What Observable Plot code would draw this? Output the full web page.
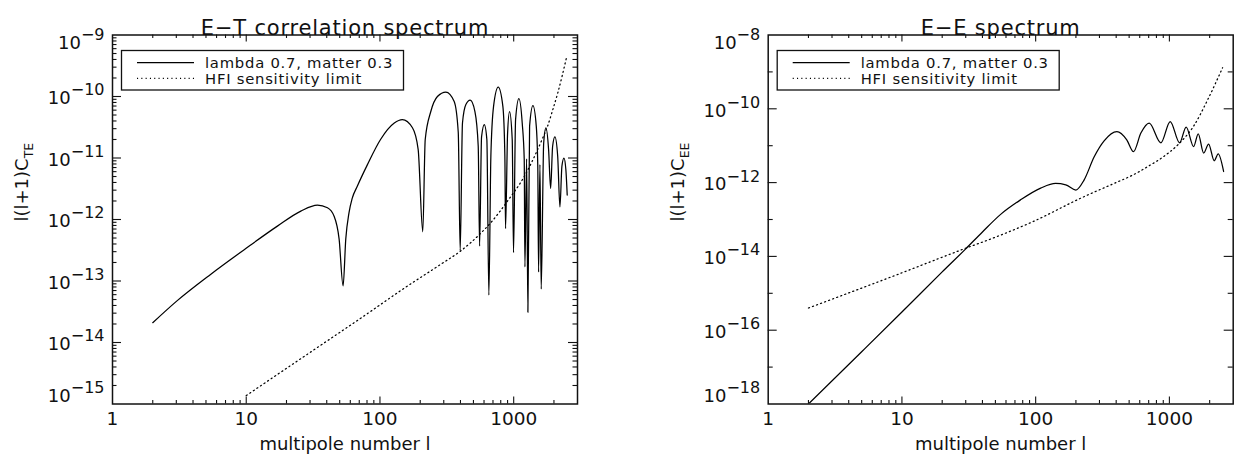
<!DOCTYPE html>
<html>
<head>
<meta charset="utf-8">
<script src="https://cdn.jsdelivr.net/npm/d3@7"></script>
<script src="https://cdn.jsdelivr.net/npm/@observablehq/plot@0.6"></script>
<style>
  html, body { margin: 0; padding: 0; background: #fff; }
  #wrap { position: relative; width: 1236px; height: 460px; overflow: hidden; }
  .panel { position: absolute; top: 0; }
</style>
</head>
<body>
<div id="wrap"></div>
<script>
// ---------- data ----------
// E-T panel: |l(l+1) C_TE| for lambda 0.7, matter 0.3
const ellTE = [2, 3.05, 5.41, 9.6, 17.1, 25.6, 34.1, 40.5, 45.4, 49.5, 53, 55.5, 58.7, 62, 67.8, 80.6, 101, 128, 147, 175, 193, 209, 218, 240, 269, 311, 359, 385, 398, 414, 439, 473, 513, 543, 556, 575, 603, 630, 652, 675, 707, 766, 830, 859, 869, 900, 931, 975, 997, 1033, 1094, 1158, 1199, 1213, 1249, 1277, 1315, 1393, 1475, 1514, 1535, 1571, 1606, 1676, 1742, 1824, 1889, 1955, 2033, 2133, 2217, 2293, 2376, 2455, 2513];
const valTE = [2.1e-14, 4.8e-14, 1.28e-13, 3.2e-13, 7.8e-13, 1.37e-12, 1.71e-12, 1.55e-12, 1.13e-12, 4.8e-13, 8.3e-14, 4.8e-13, 1.29e-12, 2.2e-12, 3.5e-12, 7.8e-12, 2e-11, 3.7e-11, 4.2e-11, 3.1e-11, 1.38e-11, 6.3e-13, 2e-11, 5.7e-11, 1e-10, 1.18e-10, 8.3e-11, 2.6e-11, 3.1e-13, 3.7e-11, 7.4e-11, 8.7e-11, 5.7e-11, 1.55e-11, 3.7e-13, 2.2e-11, 3.5e-11, 2e-11, 5.9e-14, 1.07e-11, 6.9e-11, 1.42e-10, 6.9e-11, 1.07e-11, 7.1e-13, 2.5e-11, 5.7e-11, 2e-11, 2.9e-13, 4.2e-11, 9.2e-11, 3.7e-11, 9.4e-12, 1.7e-13, 9.7e-12, 3.1e-14, 3.3e-11, 7.1e-11, 3.3e-11, 7.3e-12, 1.4e-13, 7.8e-12, 7.4e-14, 1.75e-11, 3.1e-11, 1.37e-11, 3.2e-12, 1.55e-11, 2.2e-11, 1.07e-11, 1.6e-12, 7.3e-12, 1e-11, 6.5e-12, 2.5e-12];
// E-T panel: HFI sensitivity limit
const ellTEnoise = [10, 20, 40, 76, 150, 285, 403, 568, 675, 900, 1199, 1510, 1645, 1793, 1955, 2133, 2500];
const valTEnoise = [1.37e-15, 3.8e-15, 1.05e-14, 2.7e-14, 7.5e-14, 1.87e-13, 3.1e-13, 6e-13, 8.9e-13, 2e-12, 5e-12, 1.37e-11, 2.1e-11, 3.3e-11, 6e-11, 1.13e-10, 4.6e-10];

// E-E panel: l(l+1) C_EE
const ellEE = [2, 5, 10, 20, 30, 40, 55, 77, 109, 141, 168, 200, 230, 274, 325, 405, 480, 539, 612, 706, 864, 1014, 1192, 1335, 1518, 1643, 1803, 1965, 2163, 2318, 2543];
const valEE = [1.0e-18, 2.6e-17, 3.1e-16, 3.8e-15, 1.6e-14, 4.6e-14, 1.4e-13, 3.4e-13, 7.1e-13, 9.5e-13, 8.7e-13, 6.3e-13, 1.17e-12, 5e-12, 1.35e-11, 2.4e-11, 1.44e-11, 6.9e-12, 2.2e-11, 4.1e-11, 1.2e-11, 4.5e-11, 1.2e-11, 3.2e-11, 9.5e-12, 2.1e-11, 6.3e-12, 1.1e-11, 3.9e-12, 6e-12, 2e-12];
// E-E panel: HFI sensitivity limit
const ellEEnoise = [2, 9, 27.5, 55, 97, 218, 386, 513, 612, 687, 900, 1152, 1534, 1930, 2500];
const valEEnoise = [4e-16, 3.1e-15, 1.48e-14, 3.8e-14, 9e-14, 3.8e-13, 9.5e-13, 1.5e-12, 2.1e-12, 2.7e-12, 5e-12, 1.04e-11, 3.6e-11, 1.74e-10, 1.3e-9];

// axes / text
const xTickLabels = [1, 10, 100, 1000];
const xDomain = [1, 3000];
const yLabelsTE = [1e-9, 1e-10, 1e-11, 1e-12, 1e-13, 1e-14, 1e-15];
const yLabelsEE = [1e-8, 1e-10, 1e-12, 1e-14, 1e-16, 1e-18];
const titles = ["E\u2212T correlation spectrum", "E\u2212E spectrum"];
const yTitles = [["l(l+1)C", "TE"], ["l(l+1)C", "EE"]];
const xTitle = "multipole number l";
const legendLabels = ["lambda 0.7, matter 0.3", "HFI sensitivity limit"];

// ---------- drawing ----------
const FONT = "'DejaVu Sans', 'Liberation Sans', sans-serif";
const INK = "#111";
const W = 618, H = 460, MT = 34.5, MB = 56.5;
const FH = H - MT - MB;
const DOTS = "1.1,3.2";

function minorsBetween(lo, hi, mults) {
  const out = [];
  for (let e = Math.floor(Math.log10(lo)); e <= Math.ceil(Math.log10(hi)); e++) {
    for (const m of mults) {
      const v = m * Math.pow(10, e);
      if (v > lo * 1.0001 && v < hi * 0.9999) out.push(v);
    }
  }
  return out;
}
function expLabel(v) { return "10^" + "\u2212" + Math.round(-Math.log10(v)); }

function panel(cfg) {
  const sig = cfg.ell.map((l, i) => ({l, v: cfg.val[i]}));
  const noi = cfg.ellN.map((l, i) => ({l, v: cfg.valN[i]}));
  const xMinor = minorsBetween(xDomain[0], xDomain[1], [2,3,4,5,6,7,8,9]);
  const xMajorIn = xTickLabels.filter(d => d > xDomain[0] && d < xDomain[1]);
  const yMajorIn = cfg.yLabels.filter(d => d > cfg.yDomain[0] * 1.0001 && d < cfg.yDomain[1] * 0.9999);
  const yMinor = cfg.yMinor;
  const mid = cfg.yLabels.slice(1, -1);
  const top = [cfg.yLabels[0]];
  const bot = [cfg.yLabels[cfg.yLabels.length - 1]];
  const ytSize = 18;
  const FW = W - cfg.mL - cfg.mR;
  const tk = {stroke: INK, strokeWidth: 1.1};
  const plot = Plot.plot({
    width: W, height: H,
    marginLeft: cfg.mL, marginRight: cfg.mR, marginTop: MT, marginBottom: MB,
    x: {type: "log", domain: xDomain, axis: null},
    y: {type: "log", domain: cfg.yDomain, axis: null},
    style: {fontFamily: FONT, background: "#fff", color: INK, overflow: "visible"},
    marks: [
      Plot.line(noi, {x: "l", y: "v", stroke: "#000", strokeWidth: 1.25, strokeDasharray: DOTS, curve: "monotone-x", clip: true}),
      Plot.line(sig, {x: "l", y: "v", stroke: "#000", strokeWidth: 1.25, curve: "monotone-x", clip: true}),
      // inward ticks, bottom & top
      Plot.tickX(xMajorIn, {x: d => d, insetTop: FH - 7, ...tk}),
      Plot.tickX(xMajorIn, {x: d => d, insetBottom: FH - 7, ...tk}),
      Plot.tickX(xMinor, {x: d => d, insetTop: FH - 3.5, ...tk}),
      Plot.tickX(xMinor, {x: d => d, insetBottom: FH - 3.5, ...tk}),
      // inward ticks, left & right
      Plot.tickY(yMajorIn, {y: d => d, insetRight: FW - 9, ...tk}),
      Plot.tickY(yMajorIn, {y: d => d, insetLeft: FW - 9, ...tk}),
      Plot.tickY(yMinor, {y: d => d, insetRight: FW - cfg.minorLen, ...tk}),
      Plot.tickY(yMinor, {y: d => d, insetLeft: FW - cfg.minorLen, ...tk}),
      Plot.frame({stroke: INK, strokeWidth: 1.5}),
      // x tick labels
      Plot.text(xTickLabels, {x: d => d, frameAnchor: "bottom", dy: 21, text: d => String(d), fontSize: 18.5, fill: INK}),
      // y tick labels (10^exponent)
      Plot.text(mid, {y: d => d, frameAnchor: "left", textAnchor: "end", dx: -8, dy: 2, text: expLabel, fontSize: ytSize, fill: INK}),
      Plot.text(top, {y: d => d, frameAnchor: "left", textAnchor: "end", dx: -8, dy: 8, text: expLabel, fontSize: ytSize, fill: INK}),
      Plot.text(bot, {y: d => d, frameAnchor: "left", textAnchor: "end", dx: -8, dy: -8, text: expLabel, fontSize: ytSize, fill: INK}),
      // titles
      Plot.text([cfg.title], {frameAnchor: "top", dy: -15, text: d => d, fontSize: 21, fill: INK}),
      Plot.text([xTitle], {frameAnchor: "bottom", dy: 46, text: d => d, fontSize: 18, fill: INK}),
      Plot.text([cfg.yTitle.join("_")], {frameAnchor: "left", rotate: -90, dx: -90, dy: 2, text: d => d, fontSize: 18, fill: INK})
    ]
  });
  const svg = d3.select(plot);
  svg.selectAll("text").each(function () {
    const t = this.textContent;
    const s = d3.select(this);
    let m = t.match(/^10\^(.+)$/);
    if (m) {
      s.text(null);
      s.append("tspan").text("10");
      s.append("tspan").attr("dy", "-0.55em").attr("font-size", 16).text(m[1]);
      return;
    }
    if (t.includes("_")) {
      const [a, b] = t.split("_");
      s.text(null);
      s.append("tspan").text(a);
      s.append("tspan").attr("dy", "0.38em").attr("font-size", 12.5).text(b);
      return;
    }
    if (t === cfg.title) s.attr("letter-spacing", "0.8px");
  });
  // legend box
  const L = cfg.mL;
  const g = svg.append("g").attr("font-family", FONT).attr("fill", INK).attr("text-anchor", "start");
  g.append("rect").attr("x", L + 9.5).attr("y", 50.5).attr("width", 282).attr("height", 39.5)
    .attr("fill", "none").attr("stroke", INK).attr("stroke-width", 1.3);
  g.append("line").attr("x1", L + 25).attr("x2", L + 82).attr("y1", 62.7).attr("y2", 62.7)
    .attr("stroke", "#000").attr("stroke-width", 1.25);
  g.append("line").attr("x1", L + 25).attr("x2", L + 82).attr("y1", 78.3).attr("y2", 78.3)
    .attr("stroke", "#000").attr("stroke-width", 1.25).attr("stroke-dasharray", DOTS);
  g.append("text").attr("x", L + 93).attr("y", 67.5).attr("font-size", 14.8).attr("letter-spacing", "0.75px").text(legendLabels[0]);
  g.append("text").attr("x", L + 93).attr("y", 83.5).attr("font-size", 14.8).attr("letter-spacing", "0.75px").text(legendLabels[1]);
  const holder = document.createElement("div");
  holder.className = "panel";
  holder.style.left = cfg.left + "px";
  holder.appendChild(plot);
  document.getElementById("wrap").appendChild(holder);
}

panel({
  left: 0, mL: 112, mR: 41,
  ell: ellTE, val: valTE, ellN: ellTEnoise, valN: valTEnoise,
  yDomain: [1e-15, 1e-9], yLabels: yLabelsTE,
  yMinor: minorsBetween(1e-15, 1e-9, [2,3,4,5,6,7,8,9]), minorLen: 4.5,
  title: titles[0], yTitle: yTitles[0]
});
panel({
  left: 618, mL: 149.7, mR: 3.3,
  ell: ellEE, val: valEE, ellN: ellEEnoise, valN: valEEnoise,
  yDomain: [1e-18, 1e-8], yLabels: yLabelsEE,
  yMinor: [1e-9, 1e-11, 1e-13, 1e-15, 1e-17], minorLen: 5,
  title: titles[1], yTitle: yTitles[1]
});
</script>
</body>
</html>
